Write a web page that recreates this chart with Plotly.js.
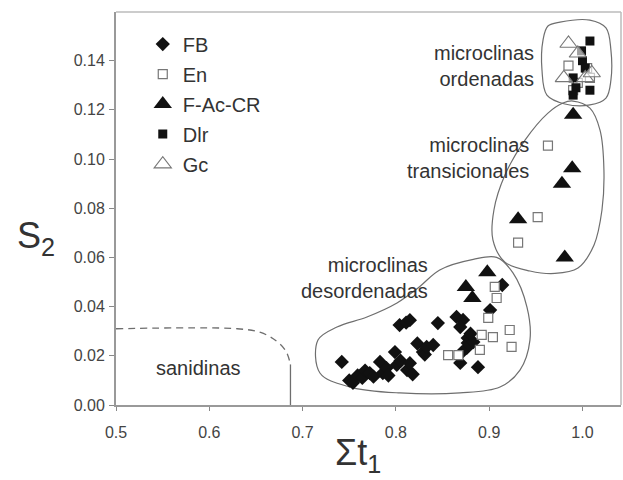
<!DOCTYPE html>
<html>
<head>
<meta charset="utf-8">
<script src="https://cdn.plot.ly/plotly-3.0.1.min.js"></script>
<style>html,body{margin:0;padding:0;background:#fff;}#chart{width:623px;height:480px;}</style>
</head>
<body>
<div id="chart"></div>
<script>
// ---- data ----
const fbX = [0.742,0.750,0.754,0.759,0.764,0.767,0.772,0.776,0.783,0.786,0.790,0.792,0.799,0.801,0.805,0.812,0.815,0.818,0.823,0.829,0.831,0.833,0.840,0.804,0.811,0.815,0.845,0.865,0.872,0.869,0.877,0.877,0.876,0.883,0.871,0.880,0.869,0.888,0.901,0.914];
const fbY = [0.0175,0.0100,0.0090,0.0120,0.0110,0.0140,0.0130,0.0115,0.0175,0.0130,0.0150,0.0120,0.0215,0.0163,0.0180,0.0142,0.0170,0.0125,0.0250,0.0215,0.0205,0.0236,0.0244,0.0325,0.0335,0.0345,0.0333,0.0358,0.0346,0.0317,0.0272,0.0252,0.0232,0.0256,0.0215,0.0290,0.0171,0.0154,0.0386,0.0488];
const enX = [0.906,0.908,0.899,0.892,0.904,0.922,0.924,0.890,0.856,0.867,0.963,0.952,0.931,0.985,1.005,0.995,1.008,0.990];
const enY = [0.0480,0.0435,0.0354,0.0285,0.0276,0.0305,0.0236,0.0224,0.0203,0.0203,0.1055,0.0764,0.0660,0.1380,0.1370,0.1310,0.1330,0.1280];
const facX = [0.898,0.875,0.882,0.990,0.989,0.978,0.931,0.981];
const facY = [0.0540,0.0480,0.0435,0.1180,0.0963,0.0900,0.0755,0.0600];
const dlrX = [1.008,0.999,1.000,0.990,0.993,1.008,0.990,1.003];
const dlrY = [0.148,0.144,0.140,0.133,0.129,0.128,0.126,0.137];
const gcX = [0.985,0.980,1.003,0.995,1.010];
const gcY = [0.147,0.133,0.133,0.143,0.135];

// envelopes (hand-drawn regions)
const envOrdX = [0.9759,1.008,1.0252,1.0305,1.0305,1.0252,1.008,0.9812,0.9619,0.9566,0.9577,0.963,0.9759];
const envOrdY = [0.1557,0.1565,0.1533,0.1443,0.1321,0.1248,0.1220,0.1224,0.1260,0.1362,0.1484,0.1541,0.1557];
const envTraX = [0.9898,1.008,1.0188,1.023,1.0209,1.0123,0.9952,0.9705,0.9437,0.9169,0.904,0.9051,0.9169,0.9384,0.963,0.9791,0.9898];
const envTraY = [0.1236,0.1207,0.1118,0.0955,0.0793,0.0650,0.0557,0.0535,0.0545,0.0581,0.0671,0.0793,0.0935,0.1077,0.1187,0.1228,0.1236];
const envDesX = [0.847,0.883,0.908,0.9255,0.9405,0.9437,0.933,0.9116,0.8687,0.8044,0.7508,0.7186,0.7165,0.7369,0.769,0.8012,0.825,0.847];
const envDesY = [0.0549,0.0592,0.0600,0.0537,0.0398,0.0264,0.0142,0.0073,0.0049,0.0049,0.0073,0.0130,0.0264,0.0317,0.0358,0.0415,0.0480,0.0549];
const sanDashX = [0.5,0.630,0.655,0.672,0.682,0.686];
const sanDashY = [0.031,0.031,0.0295,0.026,0.022,0.018];
const sanSolidX = [0.687,0.687];
const sanSolidY = [0.0165,0.0];

const xTicks = [0.5,0.6,0.7,0.8,0.9,1.0];
const xTickText = ['0.5','0.6','0.7','0.8','0.9','1.0'];
const yTicks = [0,0.02,0.04,0.06,0.08,0.10,0.12,0.14];
const yTickText = ['0.00','0.02','0.04','0.06','0.08','0.10','0.12','0.14'];

const FONT = 'Liberation Sans, Arial, sans-serif';
const envLine = {color:'#6e6e6e', width:1.2, shape:'spline', smoothing:1.0};

const traces = [
  {x:envOrdX, y:envOrdY, mode:'lines', line:envLine, showlegend:false, hoverinfo:'skip'},
  {x:envTraX, y:envTraY, mode:'lines', line:envLine, showlegend:false, hoverinfo:'skip'},
  {x:envDesX, y:envDesY, mode:'lines', line:envLine, showlegend:false, hoverinfo:'skip'},
  {x:sanDashX, y:sanDashY, mode:'lines', line:{color:'#6e6e6e', width:1.3, dash:'7px,5px', shape:'spline'}, showlegend:false, hoverinfo:'skip'},
  {x:sanSolidX, y:sanSolidY, mode:'lines', line:{color:'#6e6e6e', width:1.3}, showlegend:false, hoverinfo:'skip'},
  {name:'FB', x:fbX, y:fbY, mode:'markers', legendrank:1, legendgroup:'a',
   marker:{symbol:'diamond', size:11, color:'#111', line:{width:0}}},
  {name:'F-Ac-CR', x:facX, y:facY, mode:'markers', legendrank:3, legendgroup:'c',
   marker:{symbol:'triangle-up', size:16, color:'#111', line:{width:0}}},
  {name:'En', x:enX, y:enY, mode:'markers', legendrank:2, legendgroup:'b',
   marker:{symbol:'square', size:9, color:'#fff', line:{width:1.2, color:'#777'}}},
  {name:'Dlr', x:dlrX, y:dlrY, mode:'markers', legendrank:4, legendgroup:'d',
   marker:{symbol:'square', size:9, color:'#111', line:{width:0}}},
  {name:'Gc', x:gcX, y:gcY, mode:'markers', legendrank:5, legendgroup:'e',
   marker:{symbol:'triangle-up', size:15, color:'rgba(255,255,255,0.6)', line:{width:1.1, color:'#777'}}}
];

const pw = 623-116-2, ph = 480-12-75;
const layout = {
  width:623, height:480,
  margin:{l:116, r:2, t:12, b:75},
  paper_bgcolor:'#fff', plot_bgcolor:'#fff',
  font:{family:FONT, color:'#333', size:14},
  showlegend:true,
  legend:{x:0.053, y:0.968, xanchor:'left', yanchor:'top', bgcolor:'rgba(0,0,0,0)',
          font:{size:20, color:'#333', family:FONT}, traceorder:'grouped', tracegroupgap:1,
          itemsizing:'trace'},
  xaxis:{range:[0.5,1.0413], tickvals:xTicks, ticktext:xTickText, ticks:'outside', ticklen:4,
         tickcolor:'#888', showgrid:false, zeroline:false, showline:true, linecolor:'#999', linewidth:2,
         ticklabelstandoff:8, tickfont:{size:16, color:'#444'}},
  yaxis:{range:[0,0.1598], tickvals:yTicks, ticktext:yTickText, ticks:'outside', ticklen:5,
         tickcolor:'#888', showgrid:false, zeroline:false, showline:true, linecolor:'#999', linewidth:2,
         ticklabelstandoff:1, tickfont:{size:16, color:'#444'}},
  shapes:[
    {type:'line', xref:'paper', yref:'paper', x0:0, x1:1, y0:1, y1:1, line:{color:'#bbb', width:1.5}},
    {type:'line', xref:'paper', yref:'paper', x0:1, x1:1, y0:0, y1:1, line:{color:'#bbb', width:1.5}}
  ],
  annotations:[
    {text:'microclinas<br>ordenadas', x:0.9505, y:0.138, xref:'x', yref:'y', xanchor:'right', yanchor:'middle', align:'right', showarrow:false, font:{size:20, color:'#333', family:FONT}},
    {text:'microclinas<br>transicionales', x:0.9445, y:0.1005, xref:'x', yref:'y', xanchor:'right', yanchor:'middle', align:'right', showarrow:false, font:{size:20, color:'#333', family:FONT}},
    {text:'microclinas<br>desordenadas', x:0.8365, y:0.0516, xref:'x', yref:'y', xanchor:'right', yanchor:'middle', align:'right', showarrow:false, font:{size:20, color:'#333', family:FONT}},
    {text:'sanidinas', x:0.588, y:0.0152, xref:'x', yref:'y', xanchor:'center', yanchor:'middle', showarrow:false, font:{size:20, color:'#333', family:FONT}},
    {text:'S<sub>2</sub>', x:(36-116)/pw, y:(405-238)/ph, xref:'paper', yref:'paper', xanchor:'center', yanchor:'middle', showarrow:false, font:{size:36, color:'#333', family:FONT}},
    {text:'Σt<sub>1</sub>', x:(358-116)/pw, y:(405-455)/ph, xref:'paper', yref:'paper', xanchor:'center', yanchor:'middle', showarrow:false, font:{size:36, color:'#333', family:FONT}}
  ]
};

Plotly.newPlot('chart', traces, layout, {displayModeBar:false, staticPlot:true});
</script>
</body>
</html>
